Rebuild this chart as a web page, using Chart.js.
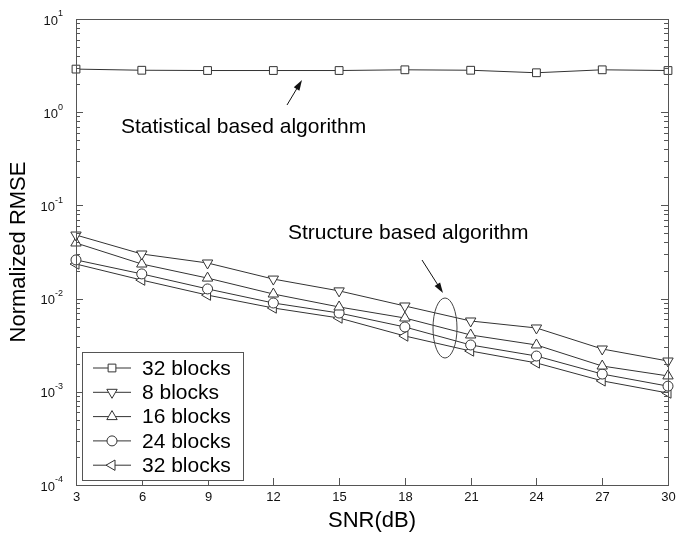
<!DOCTYPE html>
<html>
<head>
<meta charset="utf-8">
<script src="https://cdn.jsdelivr.net/npm/chart.js@4.4.0/dist/chart.umd.min.js"></script>
<style>
html, body { margin: 0; padding: 0; background: #fff; }
</style>
</head>
<body>
<canvas id="rmseChart" width="690" height="533"></canvas>
<script>
var snr = [3, 6, 9, 12, 15, 18, 21, 24, 27, 30];
var statistical32 = [2.9, 2.82, 2.8, 2.8, 2.8, 2.85, 2.82, 2.65, 2.85, 2.8];
var structure8 = [0.0481, 0.0301, 0.0241, 0.0162, 0.0121, 0.00833, 0.00575, 0.00484, 0.00288, 0.00214];
var structure16 = [0.0395, 0.0235, 0.0166, 0.0112, 0.00813, 0.00619, 0.00407, 0.00318, 0.00189, 0.00148];
var structure24 = [0.0260, 0.0184, 0.0127, 0.00897, 0.00700, 0.00496, 0.00318, 0.00242, 0.00155, 0.00115];
var structure32 = [0.0235, 0.0158, 0.0109, 0.00793, 0.00619, 0.00397, 0.00274, 0.00204, 0.00131, 0.00097];
var legendLabels = ['32 blocks', '8 blocks', '16 blocks', '24 blocks', '32 blocks'];
var xTicks = [3, 6, 9, 12, 15, 18, 21, 24, 27, 30];
var yDecades = [-4, -3, -2, -1, 0, 1];

var font = '"Liberation Sans", Arial, sans-serif';
var ink = '#333';

function pts(arr) {
  return snr.map(function (s, i) { return { x: s, y: arr[i] }; });
}

function series(label, arr, style, rot, r) {
  return {
    label: label,
    data: pts(arr),
    borderColor: ink,
    borderWidth: 1,
    pointStyle: style,
    pointRotation: rot,
    pointRadius: r,
    pointBackgroundColor: '#fff',
    pointBorderColor: ink,
    pointBorderWidth: 1,
    tension: 0,
    clip: false
  };
}

// marker used in the legend, same shapes as chart.js draws
function marker(c, style, rot, r, x, y) {
  c.save();
  c.beginPath();
  if (style === 'circle') {
    c.arc(x, y, r, 0, Math.PI * 2);
  } else if (style === 'rect') {
    var s = r * Math.SQRT1_2;
    c.rect(x - s, y - s, 2 * s, 2 * s);
  } else {
    var a = rot * Math.PI / 180;
    for (var k = 0; k < 3; k++) {
      var px = x + Math.sin(a) * r, py = y - Math.cos(a) * r;
      if (k === 0) c.moveTo(px, py); else c.lineTo(px, py);
      a += 2 * Math.PI / 3;
    }
    c.closePath();
  }
  c.fillStyle = '#fff';
  c.fill();
  c.strokeStyle = ink;
  c.lineWidth = 1;
  c.stroke();
  c.restore();
}

function arrow(c, x1, y1, x2, y2) {
  var ang = Math.atan2(y2 - y1, x2 - x1);
  c.beginPath();
  c.moveTo(x1, y1);
  c.lineTo(x2 - Math.cos(ang) * 6, y2 - Math.sin(ang) * 6);
  c.stroke();
  c.beginPath();
  c.moveTo(x2, y2);
  c.lineTo(x2 - Math.cos(ang - 0.3) * 11, y2 - Math.sin(ang - 0.3) * 11);
  c.lineTo(x2 - Math.cos(ang + 0.3) * 11, y2 - Math.sin(ang + 0.3) * 11);
  c.closePath();
  c.fill();
}

var frame = {
  id: 'frame',
  afterDraw: function (chart) {
    var c = chart.ctx, a = chart.chartArea;
    var xs = chart.scales.x, ys = chart.scales.y;
    c.save();
    c.strokeStyle = '#555';
    c.lineWidth = 1;
    c.strokeRect(a.left + 0.5, a.top + 0.5, a.right - a.left, a.bottom - a.top);

    // x ticks (inward) and labels
    c.fillStyle = '#111';
    c.font = '13px ' + font;
    c.textAlign = 'center';
    c.textBaseline = 'middle';
    xTicks.forEach(function (v) {
      var px = Math.round(xs.getPixelForValue(v)) + 0.5;
      c.beginPath();
      c.moveTo(px, a.bottom);
      c.lineTo(px, a.bottom - 7);
      c.stroke();
      c.fillText(String(v), px, a.bottom + 12);
    });

    // y ticks: decades and minor, both sides
    yDecades.forEach(function (d) {
      for (var m = 1; m <= 9; m++) {
        if (d === 1 && m > 1) break;
        var py = Math.round(ys.getPixelForValue(m * Math.pow(10, d))) + 0.5;
        var len = m === 1 ? 7 : 4;
        c.beginPath();
        c.moveTo(a.left, py); c.lineTo(a.left + len, py);
        c.moveTo(a.right, py); c.lineTo(a.right - len, py);
        c.stroke();
      }
      var y0 = ys.getPixelForValue(Math.pow(10, d));
      var sup = String(d);
      c.font = '9px ' + font;
      var sw = c.measureText(sup).width;
      c.textAlign = 'right';
      c.textBaseline = 'middle';
      c.fillText(sup, a.left - 13, y0 - 5);
      c.font = '13px ' + font;
      c.fillText('10', a.left - 13 - sw, y0 + 2);
    });

    // axis titles
    c.fillStyle = '#000';
    c.font = '22px ' + font;
    c.textAlign = 'center';
    c.textBaseline = 'middle';
    c.fillText('SNR(dB)', (a.left + a.right) / 2, 521);
    c.save();
    c.translate(19, (a.top + a.bottom) / 2);
    c.rotate(-Math.PI / 2);
    c.fillText('Normalized RMSE', 0, 0);
    c.restore();

    // annotations
    c.font = '21px ' + font;
    c.textAlign = 'left';
    c.fillText('Statistical based algorithm', 121, 127);
    c.fillText('Structure based algorithm', 288, 233);
    c.strokeStyle = '#111';
    c.fillStyle = '#111';
    arrow(c, 287, 105, 302, 80);
    arrow(c, 422, 260, 443, 293);
    c.strokeStyle = '#444';
    c.beginPath();
    c.ellipse(445, 328, 12, 30, 0, 0, Math.PI * 2);
    c.stroke();

    // legend
    var lx = 82.5, ly = 352.5, lw = 161, lh = 128;
    c.fillStyle = '#fff';
    c.fillRect(lx, ly, lw, lh);
    c.strokeStyle = '#555';
    c.strokeRect(lx, ly, lw, lh);
    chart.data.datasets.forEach(function (ds, i) {
      var yy = 368 + i * 24.3;
      c.strokeStyle = ink;
      c.beginPath();
      c.moveTo(93, yy); c.lineTo(131, yy);
      c.stroke();
      marker(c, ds.pointStyle, ds.pointRotation, ds.pointRadius, 112, yy);
      c.fillStyle = '#000';
      c.font = '21px ' + font;
      c.textAlign = 'left';
      c.textBaseline = 'middle';
      c.fillText(legendLabels[i], 142, yy + 1);
    });
    c.restore();
  }
};

new Chart(document.getElementById('rmseChart'), {
  type: 'line',
  data: {
    datasets: [
      series(legendLabels[0], statistical32, 'rect', 0, 5.5),
      series(legendLabels[1], structure8, 'triangle', 180, 6),
      series(legendLabels[2], structure16, 'triangle', 0, 6),
      series(legendLabels[3], structure24, 'circle', 0, 5),
      series(legendLabels[4], structure32, 'triangle', -90, 6)
    ]
  },
  options: {
    responsive: false,
    animation: false,
    devicePixelRatio: 1,
    layout: { padding: { left: 76, right: 22, top: 19, bottom: 48 } },
    plugins: { legend: { display: false }, tooltip: { enabled: false } },
    scales: {
      x: { type: 'linear', min: 3, max: 30, display: false },
      y: { type: 'logarithmic', min: 1e-4, max: 10, display: false }
    }
  },
  plugins: [frame]
});
</script>
</body>
</html>
